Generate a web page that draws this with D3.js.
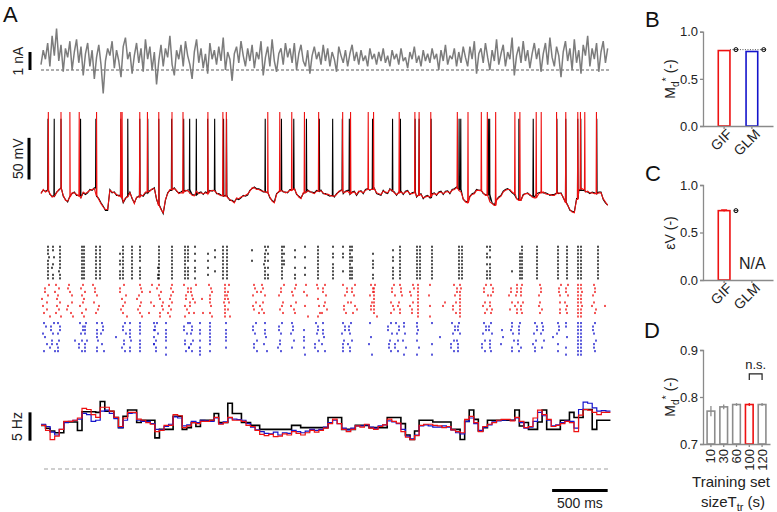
<!DOCTYPE html>
<html>
<head>
<meta charset="utf-8">
<script src="https://cdn.jsdelivr.net/npm/d3@7"></script>
<style>
  body { margin: 0; background: #fff; }
  svg { display: block; font-family: "Liberation Sans", Arial, sans-serif; }
</style>
</head>
<body>
<svg id="fig" width="777" height="512"></svg>
<script>
// ---- panel A data ----
const tStep = 20; // ms between trace samples

// injected current (nA), one sample every 20 ms
const currentNA = [
  0.3, 1.1, 0.6, 1.5, 0.2, 1.9, 0.8, 2.3, 0.5, 1.4, -0.1, 1.2, 0.7, 1.6, 0.0, 1.0,
  1.7, 0.4, 1.3, -0.3, 0.9, 1.5, 0.2, 1.1, -0.5, 0.7, 1.4, 0.3, -1.3, 0.5, 1.2, 0.8,
  1.6, 0.1, 1.1, 0.5, -0.4, 1.3, 1.8, 0.6, 1.0, -0.2, 0.8, 1.5, 0.4, 1.2, -0.1, 1.7,
  0.6, 1.3, 0.0, 1.0, -0.8, 0.5, 1.4, 0.2, 1.2, 0.7, 1.9, 0.3, -0.3, 1.1, 0.6, 1.4,
  0.2, 1.6, 0.8, 0.3, -0.5, 1.0, 1.7, 0.4, 1.2, 0.1, 0.9, -0.2, 1.5, 0.6, 1.1, 0.3,
  1.3, 0.5, 1.8, 0.0, 1.0, 0.6, -0.6, 0.9, 1.3, 0.4, 1.6, 0.8, 0.2, 1.2, 0.5, 1.4,
  0.1, 1.0, 0.6, 1.6, -0.3, 0.7, 1.3, 0.2, 1.7, 0.5, -0.1, 0.9, 1.2, 0.3, 1.5, 0.7,
  1.2, 0.4, 1.5, 0.0, 0.9, 1.4, 0.5, 0.2, 1.1, -0.2, 0.8, 1.3, 0.6, 1.0, 0.3, 1.4,
  0.5, 1.2, 0.2, 1.0, 0.6, -0.1, 1.3, 0.8, 0.4, 1.1, 0.2, 0.9, 1.4, 0.5, 1.0, 0.3,
  1.1, 0.5, 0.8, 0.2, 1.2, 0.6, 0.9, 0.3, 1.0, 0.5, 1.2, 0.4, 0.8, 0.2, 1.1, 0.6,
  0.9, 0.3, 1.2, 0.5, 0.7, 0.1, 1.0, 0.6, 1.3, 0.4, 0.8, 0.2, 1.1, 0.5, 0.9, 0.4,
  1.2, 0.6, 0.9, 0.0, 1.1, 0.5, 1.4, 0.3, 0.8, 0.6, 1.2, 0.2, 1.0, 0.4, 1.3, 0.7,
  0.2, 1.3, 0.6, 1.6, -0.2, 0.9, 1.2, 0.4, 1.5, 0.7, 0.0, 1.1, 0.5, 1.7, 0.3, 0.9,
  1.4, 0.2, 1.0, 0.6, 1.8, -0.3, 0.8, 1.3, 0.4, 1.6, 0.5, 1.1, 0.1, 0.9, 1.5, 0.6,
  1.2, -0.1, 0.9, 1.5, 0.3, 1.8, 0.7, 0.2, 1.3, 0.8, -0.4, 1.0, 1.6, 0.5, 1.2, 0.0,
  1.7, 0.4, 1.1, -0.2, 1.4, 0.8, 1.9, 0.2, 1.2, 0.6, 1.5, -0.1, 1.0, 1.6, 0.4, 1.2
];

// subthreshold membrane potential (mV), recorded and GIF model, every 20 ms
const vmData = [
  -61, -58, -59, -57.6, -63, -65, -66, -60, -58, -55.2, -65, -69,
  -72, -65, -62, -60, -64, -64, -66, -61, -63, -61, -57, -58,
  -55, -65, -68, -73, -77, -82, -82, -57, -61, -60, -64, -64,
  -66, -73, -68, -65, -60, -68, -73, -67, -65, -63.6, -65, -61,
  -61, -58, -57, -55, -69, -75, -80, -86, -70, -61, -58, -57,
  -55, -59, -61, -60, -58, -59, -57.6, -62, -63, -63.6, -60, -61,
  -60, -63, -60, -61, -58, -59, -57.6, -62, -62, -63.6, -65, -64,
  -66, -70, -70, -72, -68, -69, -67, -64, -65, -63.6, -58, -56,
  -54, -56, -56, -57.6, -60, -59, -60, -67, -70, -72, -62, -60,
  -57.6, -60, -60, -61, -57, -57, -55, -63, -65, -67, -62, -60,
  -57.6, -60, -60, -61, -58, -59, -57.6, -62, -62, -63.6, -65, -64,
  -66, -62, -60, -57.6, -62, -59, -58, -63, -60, -59, -64, -60,
  -58.5, -62, -57, -56, -58, -56, -55.2, -62, -63, -64, -58, -61,
  -62, -56, -59, -60, -64, -60, -59, -63, -59, -58, -63, -61,
  -60, -66, -63, -62, -68, -65, -64, -67, -62, -61, -64, -60,
  -59, -63, -59, -58.5, -62, -57, -56, -54, -57, -59, -69, -71,
  -72, -65, -62, -61, -57, -58, -57.6, -62, -63, -63.6, -71, -73,
  -75.6, -69, -66, -64, -59, -57, -56, -58, -61, -63, -68, -69,
  -69.6, -63, -62, -61, -64, -65, -66, -62, -61, -60, -61, -61,
  -62, -64, -63, -63, -61, -62, -61, -67, -72, -75.6, -82, -83,
  -84, -68, -58, -54, -58, -59, -60, -62, -60, -61, -62, -60,
  -60, -69, -73, -75.6
];
const vmModel = [
  -62, -57, -60, -58.5, -62, -66, -65, -61, -57, -56, -64, -70,
  -71, -66, -61, -61, -63, -65, -67, -60, -62, -60, -58, -57,
  -56, -64, -69, -74, -78, -81, -81, -58, -60, -61, -63, -65,
  -67, -72, -67, -66, -61, -67, -74, -66, -66, -64.5, -64, -60,
  -60, -59, -56, -56, -68, -76, -81, -85, -69, -62, -57, -58,
  -56, -58, -62, -61, -59, -58, -58.5, -61, -64, -64.5, -59, -62,
  -61, -62, -61, -62, -59, -58, -58.5, -61, -63, -64.5, -64, -65,
  -67, -69, -71, -73, -67, -68, -66, -65, -64, -62.5, -59, -55,
  -55, -57, -57, -58.5, -59, -60, -61, -66, -71, -73, -63, -59,
  -58.5, -59, -61, -60, -58, -56, -56, -62, -66, -68, -61, -61,
  -58.5, -59, -61, -62, -59, -58, -58.5, -61, -63, -62.5, -64, -65,
  -65, -63, -59, -58.5, -61, -60, -59, -62, -61, -60, -63, -59,
  -59.5, -61, -58, -57, -57, -57, -56, -61, -62, -63, -59, -60,
  -61, -57, -58, -61, -63, -61, -60, -62, -60, -59, -62, -62,
  -61, -65, -64, -63, -67, -66, -65, -66, -63, -62, -63, -61,
  -60, -62, -60, -59.5, -61, -58, -57, -55, -58, -60, -68, -72,
  -73, -66, -63, -62, -58, -58, -58.5, -61, -64, -64.5, -72, -74,
  -76, -70, -67, -65, -60, -58, -57, -57, -60, -62, -68, -70,
  -70, -64, -62, -62, -63, -66, -67, -63, -62, -61, -60, -62,
  -63, -63, -64, -64, -62, -61, -62, -66, -73, -76, -81, -84,
  -85, -69, -57, -55, -57, -60, -59, -61, -61, -62, -61, -61,
  -61, -68, -72, -76
];

// spike times (ms) and peak potentials (mV)
const spikesData = [
  63, 119, 180, 356, 494, 718, 781, 889, 961, 1060, 1176, 1284, 1338, 1398,
  1500, 1563, 1643, 1670, 2018, 2164, 2275, 2389, 2505, 2625, 2712, 2775,
  2984, 3164, 3235, 3367, 3403, 3511, 3763, 3778, 4026, 4038, 4301, 4430,
  4643, 4723, 4831, 4858, 5002
];
const spikesModel = [
  66, 180, 260, 344, 500, 718, 730, 889, 958, 1060, 1179, 1278, 1502, 1637,
  1668, 2041, 2149, 2257, 2371, 2499, 2715, 2786, 2945, 2993, 3224, 3365,
  3403, 3508, 3747, 3843, 3963, 4017, 4092, 4265, 4310, 4457, 4502, 4640,
  4723, 4831, 4855, 4894, 4999
];
const spikePeakData = 28;
const spikePeakModel = 36;

// rasters: [time (ms), one char per trial: '.' no spike, digit = jitter step of 9 ms around '4']
const rasterData = [
  [63, "4445444444"], [108, "44.5.43.44"], [171, "4444444344"], [369, "4444444444"],
  [387, "4444444444"], [495, "4444444444"], [531, "4444444444"], [711, "..4.44.444"],
  [738, "4444444444"], [819, "4444444444"], [891, "44444.4444"], [1053, "......4.44"],
  [1062, "4444444444"], [1179, "4444444444"], [1296, "4444444444"], [1323, "44444.4444"],
  [1386, "4.4.4.44.4"], [1503, "..4.4.4.4."], [1566, ".4.4...4.."], [1638, "4444444444"],
  [1674, "4444444444"], [1899, ".4..4....."], [2016, "4544434444"], [2043, "4.4.4.4.44"],
  [2169, "4444444444"], [2187, "4.4.44...."], [2286, ".4.4..4.44"], [2376, "4..4..4.4."],
  [2493, "4444444444"], [2628, "4.44.44444"], [2718, "4.44...4.."], [2781, "4444444444"],
  [2799, "44.44.4444"], [2988, "..4.444.44"], [3168, ".4.44.4444"], [3231, "4444444444"],
  [3384, "4444444444"], [3411, "4444444444"], [3519, "4444444444"], [3762, "4444444444"],
  [3789, "4444444444"], [4014, "4.44.4.444"], [4041, "44.4.44444"], [4239, ".......4.."],
  [4311, "..44444444"], [4329, "4444444444"], [4464, "4444444444"], [4653, "4444444444"],
  [4734, "4444444444"], [4833, "4444444444"], [4860, "4444444444"], [5013, "4444444444"]
];
const rasterGIF = [
  [45, "7336051528"], [144, "3625474638"], [261, "3246.62157"], [369, "5374652846"],
  [486, "2446.3875."], [729, "6228475359"], [891, "4563154246"], [990, "5.3..47.2."],
  [1071, "3153476744"], [1170, "5464352413"], [1305, "2664483573"], [1359, "8334572.6."],
  [1449, "....4...5."], [1521, "3564445.46"], [1656, "4444434444"], [1683, "5.4345.4.6"],
  [1926, "3462.5238."], [1989, "4537.5246"], [2160, "7442.6536."], [2277, "6523.6145"],
  [2385, "4.25..3..6"], [2493, "34..4.5.64"], [2547, "5336.5472"], [2736, "2664.7335"],
  [2808, "6335.2684"], [2970, "4663.544."], [2997, "5444444447"], [3168, "5336.2452"],
  [3231, "4556.3244"], [3339, "5623.5244"], [3393, "4444444444"], [3501, "4..3..4..4"],
  [3618, ".....64..."], [3726, "3664.5225"], [3771, "4544444444"], [3996, "5337.4264"],
  [4050, "4664.3354"], [4221, ".553.6.4."], [4284, "4443.5244"], [4320, "5444.6445"],
  [4491, "4553.4364"], [4671, "5334.4.44"], [4725, "6446.3545"], [4833, "4444444444"],
  [4860, "4454445444"], [4977, "4553.4265"], [5076, "......4..."]
];
const rasterGLM = [
  [36, "35.24.6.3."], [99, "6335.4427"], [153, "4664.5344"], [306, ".....4...."],
  [360, "3664.5225"], [396, "5444.6444"], [504, "4.4445.44."], [549, "4553..4.6"],
  [675, "....4....."], [747, "5336.4425"], [801, "4.4445.44"], [891, "4444.4444"],
  [1017, "4.4.4.4..."], [1035, "5336.4244"], [1125, "4.4444.4.4"], [1305, "6225.3374"],
  [1350, "3554.6425"], [1431, "4.44.4.444"], [1521, "4444444.4"], [1665, "4.4444.4."],
  [1926, "5224.6336"], [2016, "4.445.3.6."], [2151, "6335.4425"], [2259, "4553.6.4."],
  [2367, "..4.44.4.5"], [2484, "3554.6225"], [2538, "4.445.3.6."], [2718, "4663.5444"],
  [2781, "5334.6244"], [2961, "4...5.3..6"], [3141, "5226.4335"], [3204, "3664.5225"],
  [3267, "44.5.3.6.4"], [3384, "4454.4.6.4"], [3519, "4.....4..4"], [3591, "....4....."],
  [3708, "3664.5225"], [3753, "5446.3444"], [3987, "4663.5225"], [4041, "5336.4445"],
  [4149, "..4.5.3..."], [4239, "4435.6.44"], [4302, "5444.3364"], [4446, "4663.5244"],
  [4509, "4553.6.4."], [4608, "....4....."], [4653, "4553..4.4"], [4725, "44..5..4.4"],
  [4833, "4444444444"], [4860, "4444444444"], [4977, "5334.6445"]
];

// PSTH (Hz), bins of 41 ms
const psthBin = 41;
const psthData = [
  7.7, 7.2, 6.7, 6.4, 6.4, 8.3, 8.3, 8.3, 6.8, 10.1,
  10.1, 10.1, 10.0, 11.9, 10.2, 10.2, 9.1, 7.3, 9.3, 10.4,
  10.4, 8.2, 8.6, 8.6, 8.6, 5.5, 7.0, 7.0, 7.0, 9.3,
  9.3, 7.0, 7.3, 8.2, 7.5, 8.6, 8.6, 8.6, 9.8, 8.2,
  8.2, 11.6, 9.8, 9.8, 8.2, 8.2, 7.7, 7.7, 7.0, 7.0,
  7.0, 7.0, 7.0, 7.0, 7.0, 7.7, 7.7, 7.3, 7.3, 7.3,
  7.3, 7.3, 7.3, 9.1, 9.1, 9.1, 7.0, 7.0, 7.0, 7.7,
  7.7, 7.7, 7.3, 7.3, 7.3, 7.3, 9.1, 9.1, 9.1, 8.0,
  6.0, 5.2, 6.7, 8.6, 8.6, 8.6, 8.3, 8.3, 8.3, 8.3,
  7.0, 7.0, 5.2, 8.4, 10.4, 8.75, 6.7, 7.3, 8.6, 8.6,
  8.6, 8.6, 8.6, 8.6, 10.4, 7.6, 8.2, 7.0, 7.0, 8.3,
  10.4, 7.0, 7.0, 7.0, 8.6, 8.6, 10.0, 9.1, 9.1, 10.5,
  10.5, 7.0, 8.6, 8.6, 8.6
];
const psthGIF = [
  7.7, 6.8, 5.2, 5.8, 7.0, 8.4, 8.4, 8.6, 9.0, 10.7,
  10.5, 9.6, 9.1, 10.9, 10.9, 10.2, 9.1, 7.5, 9.0, 10.0,
  10.0, 8.8, 8.6, 8.2, 7.9, 6.6, 6.8, 7.7, 7.7, 9.6,
  9.4, 7.3, 7.6, 8.2, 8.0, 8.4, 8.4, 8.6, 9.1, 7.9,
  8.2, 9.1, 8.6, 8.6, 8.4, 7.7, 7.5, 6.8, 6.1, 5.9,
  6.1, 5.7, 5.8, 6.2, 6.0, 6.6, 6.3, 6.0, 6.4, 6.8,
  6.5, 6.8, 7.2, 8.0, 8.8, 8.0, 7.0, 6.6, 7.0, 7.6,
  7.4, 7.9, 7.2, 7.0, 7.5, 7.8, 8.8, 8.4, 8.1, 6.6,
  5.6, 5.2, 5.9, 7.7, 7.9, 7.9, 7.7, 7.6, 7.3, 7.5,
  6.9, 6.6, 6.4, 8.75, 9.3, 8.2, 6.6, 7.5, 7.9, 8.2,
  8.6, 8.75, 8.75, 8.5, 9.1, 8.4, 7.3, 7.5, 9.0, 10.4,
  9.6, 8.75, 7.5, 7.7, 8.0, 8.4, 8.2, 6.6, 9.5, 10.5,
  10.4, 10.0, 9.6, 10.0, 10.0
];
const psthGLM = [
  7.9, 7.5, 6.5, 6.0, 7.0, 8.2, 8.4, 8.6, 8.8, 9.8,
  9.6, 8.4, 8.6, 10.2, 10.4, 9.8, 8.9, 7.3, 8.6, 9.8,
  9.9, 8.6, 8.4, 8.4, 8.0, 7.0, 6.9, 7.5, 7.9, 9.2,
  9.0, 7.6, 7.8, 8.4, 8.2, 8.6, 8.5, 8.4, 9.0, 8.0,
  8.3, 9.0, 8.8, 8.7, 8.6, 8.0, 7.4, 6.9, 6.6, 6.3,
  6.2, 6.5, 6.0, 6.4, 6.3, 6.8, 6.6, 6.4, 6.7, 7.0,
  6.8, 7.0, 7.4, 8.2, 8.6, 8.0, 7.2, 6.9, 7.2, 7.6,
  7.6, 7.8, 7.4, 7.2, 7.6, 7.8, 8.5, 8.3, 8.0, 7.0,
  5.8, 5.3, 6.0, 7.6, 7.8, 7.6, 7.4, 7.4, 7.6, 7.4,
  6.9, 6.4, 6.2, 8.4, 9.0, 8.0, 6.8, 7.4, 7.8, 8.3,
  8.5, 8.6, 8.7, 8.6, 9.0, 8.2, 7.2, 7.4, 8.4, 10.0,
  9.4, 8.6, 7.6, 7.8, 8.2, 8.5, 8.4, 7.2, 10.5, 11.8,
  11.6, 10.8, 10.2, 10.3, 10.2
];

// ---- panels B, C, D data ----
const modelNames = ["GIF", "GLM"];
const mdStar = [0.80, 0.79];
const mdIntrinsic = 0.81;
const epsV = [0.73, null];
const epsVErr = [0.008, null];
const epsIntrinsic = 0.73;
const trainSizes = ["10", "30", "60", "100", "120"];
const mdTrain = [0.770, 0.779, 0.784, 0.784, 0.784];
const mdTrainErr = [0.011, 0.005, 0.003, 0.003, 0.003];

// ---- colours ----
const red = "#ee1111", blue = "#1414cc", grey = "#7c7c7c", axisGrey = "#8a8a8a";

const svg = d3.select("#fig");
svg.append("rect").attr("width", 777).attr("height", 512).attr("fill", "#fff");

// time axis shared by all of panel A
const x = d3.scaleLinear([0, 5112], [41, 609]);

// ---- current ----
const yI = d3.scaleLinear([-1.5, 2.5], [97, 25]);
svg.append("line")
    .attr("x1", x(0)).attr("x2", x(5112))
    .attr("y1", yI(0)).attr("y2", yI(0))
    .attr("stroke", "#333").attr("stroke-width", 0.8)
    .attr("stroke-dasharray", "3,2");
svg.append("path")
    .datum(currentNA)
    .attr("fill", "none").attr("stroke", grey).attr("stroke-width", 1.5)
    .attr("stroke-linejoin", "bevel")
    .attr("d", d3.line().x((d, i) => x(i * tStep)).y(d => yI(d)));

// ---- membrane potential ----
const yV = d3.scaleLinear([-90, 40], [217, 108.7]);
function withSpikes(vm, spikes, peak) {
    const pts = vm.map((v, i) => [i * tStep, v]);
    spikes.forEach(s => {
        const base = vm[Math.floor(s / tStep)];
        pts.push([s - 3, base], [s, peak], [s + 3, base]);
    });
    return pts.sort((a, b) => a[0] - b[0]);
}
const vLine = d3.line().x(d => x(d[0])).y(d => yV(d[1]));
svg.append("path")
    .datum(withSpikes(vmData, spikesData, spikePeakData))
    .attr("fill", "none").attr("stroke", "#000").attr("stroke-width", 1.1)
    .attr("d", vLine);
svg.append("path")
    .datum(withSpikes(vmModel, spikesModel, spikePeakModel))
    .attr("fill", "none").attr("stroke", red).attr("stroke-width", 1.1)
    .attr("d", vLine);

// ---- rasters ----
const groups = [
    {name: "data", events: rasterData, color: "#000"},
    {name: "GIF", events: rasterGIF, color: red},
    {name: "GLM", events: rasterGLM, color: blue}
];
const yGroup = d3.scalePoint(groups.map(g => g.name), [246.7, 323]);
const yTrial = d3.scalePoint(d3.range(10), [0, 31.6]);
groups.forEach(g => {
    const dots = [];
    g.events.forEach(([t, pat]) => {
        pat.split("").forEach((c, k) => {
            if (c !== ".") dots.push({t: t + (+c - 4) * 9, k});
        });
    });
    svg.append("g").selectAll("rect")
        .data(dots)
        .join("rect")
        .attr("x", d => x(d.t) - 0.7)
        .attr("y", d => yGroup(g.name) + yTrial(d.k) - 1)
        .attr("width", 1.4).attr("height", 2.1)
        .attr("fill", g.color);
});

// ---- PSTH ----
const yP = d3.scaleLinear([0, 15], [469, 384]);
svg.append("line")
    .attr("x1", 44).attr("x2", x(5112))
    .attr("y1", yP(0)).attr("y2", yP(0))
    .attr("stroke", "#a0a0a0").attr("stroke-width", 1.2)
    .attr("stroke-dasharray", "4,3");
const pLine = d3.line().curve(d3.curveStepAfter).x(d => x(d[0])).y(d => yP(d[1]));
function psthPoints(vals) {
    const pts = vals.map((v, i) => [i * psthBin, v]);
    pts.push([vals.length * psthBin, vals[vals.length - 1]]);
    return pts;
}
[[psthData, "#000", 1.6], [psthGLM, blue, 1.2], [psthGIF, red, 1.2]].forEach(([vals, c, w]) => {
    svg.append("path")
        .datum(psthPoints(vals))
        .attr("fill", "none").attr("stroke", c).attr("stroke-width", w)
        .attr("d", pLine);
});

// ---- scale bars for panel A ----
function vBar(xPos, y0, y1, label, labelX) {
    svg.append("line").attr("x1", xPos).attr("x2", xPos).attr("y1", y0).attr("y2", y1)
        .attr("stroke", "#000").attr("stroke-width", 3);
    svg.append("text")
        .attr("transform", `translate(${labelX},${(y0 + y1) / 2}) rotate(-90)`)
        .attr("text-anchor", "middle").attr("font-size", 14).attr("fill", "#222")
        .text(label);
}
vBar(30, yI(0), yI(1), "1 nA", 23);
vBar(29, yV(-45), yV(5), "50 mV", 23);
vBar(30, yP(5), yP(10), "5 Hz", 22);

svg.append("line").attr("x1", x(4600)).attr("x2", x(5100))
    .attr("y1", 490.5).attr("y2", 490.5)
    .attr("stroke", "#000").attr("stroke-width", 3);
svg.append("text").attr("x", (x(4600) + x(5100)) / 2).attr("y", 508)
    .attr("text-anchor", "middle").attr("font-size", 14).attr("fill", "#222")
    .text("500 ms");

// ---- panel letters ----
[["A", 3, 22], ["B", 645, 27], ["C", 645, 181], ["D", 644, 338]].forEach(([t, px, py]) => {
    svg.append("text").attr("x", px).attr("y", py)
        .attr("font-size", 22).attr("fill", "#111").text(t);
});

// ---- helpers for bar panels ----
function styleAxis(g) {
    g.selectAll(".domain").attr("stroke", axisGrey).attr("stroke-width", 1.3);
    g.selectAll(".tick line").attr("stroke", axisGrey).attr("stroke-width", 1.3);
    g.selectAll("text").attr("font-size", 13).attr("fill", "#222")
        .attr("font-family", "Liberation Sans, Arial, sans-serif");
}
function yTitle(yc, build) {
    const t = svg.append("text")
        .attr("transform", `translate(675,${yc}) rotate(-90)`)
        .attr("text-anchor", "middle").attr("font-size", 14).attr("fill", "#222");
    build(t);
}
function mdTitle(t) {
    t.append("tspan").text("M");
    t.append("tspan").attr("dy", 4).attr("font-size", 10).text("d");
    t.append("tspan").attr("dy", -9).attr("font-size", 11).text("*");
    t.append("tspan").attr("dy", 5).text(" (-)");
}
function modelLabels(xs, y0) {
    modelNames.forEach(n => {
        svg.append("text")
            .attr("transform", `translate(${xs(n) + xs.bandwidth() / 2 + 9},${y0 + 9}) rotate(-45)`)
            .attr("text-anchor", "end").attr("font-size", 14).attr("fill", "#222")
            .text(n);
    });
}
function marker(cx, cy) {
    svg.append("circle").attr("cx", cx).attr("cy", cy).attr("r", 2)
        .attr("fill", "#fff").attr("stroke", "#000").attr("stroke-width", 1);
    svg.append("line").attr("x1", cx - 2).attr("x2", cx + 2).attr("y1", cy).attr("y2", cy)
        .attr("stroke", "#000").attr("stroke-width", 0.8);
}

// ---- panel B ----
const xB = d3.scaleBand(modelNames, [703, 773]).paddingInner(0.58).paddingOuter(0.55);
const yB = d3.scaleLinear([0, 1], [126, 31.7]);
svg.append("line")
    .attr("x1", xB("GIF") + xB.bandwidth()).attr("x2", xB("GLM") + xB.bandwidth() + 7)
    .attr("y1", yB(mdIntrinsic)).attr("y2", yB(mdIntrinsic))
    .attr("stroke", "#555").attr("stroke-width", 1).attr("stroke-dasharray", "1,1.5");
svg.append("g").selectAll("rect").data(modelNames).join("rect")
    .attr("x", d => xB(d)).attr("width", xB.bandwidth())
    .attr("y", (d, i) => yB(mdStar[i])).attr("height", (d, i) => yB(0) - yB(mdStar[i]))
    .attr("fill", "none").attr("stroke", (d, i) => i ? blue : red).attr("stroke-width", 1.6);
modelNames.forEach(n => marker(xB(n) + xB.bandwidth() + 6, yB(mdIntrinsic)));
svg.append("g").attr("transform", "translate(703,0)")
    .call(d3.axisLeft(yB).tickValues([0, 0.5, 1]).tickFormat(d3.format(".1f")).tickSize(3).tickPadding(2))
    .call(styleAxis);
svg.append("g").attr("transform", `translate(0,${yB(0)})`)
    .call(d3.axisBottom(xB).tickSize(3).tickFormat("").tickSizeOuter(0))
    .call(styleAxis);
modelLabels(xB, yB(0));
yTitle(79, mdTitle);

// ---- panel C ----
const xC = xB.copy();
const yC = d3.scaleLinear([0, 1], [280, 185]);
svg.append("g").selectAll("rect").data(modelNames.filter((d, i) => epsV[i] !== null)).join("rect")
    .attr("x", d => xC(d)).attr("width", xC.bandwidth())
    .attr("y", (d, i) => yC(epsV[i])).attr("height", (d, i) => yC(0) - yC(epsV[i]))
    .attr("fill", "none").attr("stroke", red).attr("stroke-width", 1.6);
const cGif = xC("GIF") + xC.bandwidth() / 2;
svg.append("line").attr("x1", cGif).attr("x2", cGif)
    .attr("y1", yC(epsV[0] - epsVErr[0])).attr("y2", yC(epsV[0] + epsVErr[0]))
    .attr("stroke", red).attr("stroke-width", 1.2);
svg.append("line").attr("x1", cGif - 3).attr("x2", cGif + 3)
    .attr("y1", yC(epsV[0] + epsVErr[0])).attr("y2", yC(epsV[0] + epsVErr[0]))
    .attr("stroke", red).attr("stroke-width", 1.2);
marker(xC("GIF") + xC.bandwidth() + 6, yC(epsIntrinsic));
svg.append("text").attr("x", xC("GLM") - 7).attr("y", yC(0.12))
    .attr("font-size", 16).attr("fill", "#222").text("N/A");
svg.append("g").attr("transform", "translate(703,0)")
    .call(d3.axisLeft(yC).tickValues([0, 0.5, 1]).tickFormat(d3.format(".1f")).tickSize(3).tickPadding(2))
    .call(styleAxis);
svg.append("g").attr("transform", `translate(0,${yC(0)})`)
    .call(d3.axisBottom(xC).tickSize(3).tickFormat("").tickSizeOuter(0))
    .call(styleAxis);
modelLabels(xC, yC(0));
yTitle(233, t => {
    t.append("tspan").text("\u03b5V (-)");
});

// ---- panel D ----
const xD = d3.scaleBand(trainSizes, [703, 770]).paddingInner(0.4).paddingOuter(0.32);
const yD = d3.scaleLinear([0.7, 0.9], [444, 350]);
const dColor = d => d === "100" ? red : "#8c8c8c";
svg.append("g").selectAll("rect").data(trainSizes).join("rect")
    .attr("x", d => xD(d)).attr("width", xD.bandwidth())
    .attr("y", (d, i) => yD(mdTrain[i])).attr("height", (d, i) => yD(0.7) - yD(mdTrain[i]))
    .attr("fill", "#fff").attr("stroke", dColor).attr("stroke-width", 1.6);
svg.append("g").selectAll("line").data(trainSizes).join("line")
    .attr("x1", d => xD(d) + xD.bandwidth() / 2).attr("x2", d => xD(d) + xD.bandwidth() / 2)
    .attr("y1", (d, i) => yD(mdTrain[i] - mdTrainErr[i]))
    .attr("y2", (d, i) => yD(mdTrain[i] + mdTrainErr[i]))
    .attr("stroke", dColor).attr("stroke-width", 1.3);
svg.append("g").attr("transform", "translate(703,0)")
    .call(d3.axisLeft(yD).tickValues([0.7, 0.8, 0.9]).tickFormat(d3.format(".1f")).tickSize(3).tickPadding(2))
    .call(styleAxis);
svg.append("g").attr("transform", `translate(0,${yD(0.7)})`)
    .call(d3.axisBottom(xD).tickSize(3).tickFormat("").tickSizeOuter(0))
    .call(styleAxis);
trainSizes.forEach(s => {
    svg.append("text")
        .attr("transform", `translate(${xD(s) + xD.bandwidth() / 2},${yD(0.7) + 5}) rotate(-90)`)
        .attr("text-anchor", "end").attr("dy", "0.35em")
        .attr("font-size", 13).attr("fill", "#222").text(s);
});
yTitle(397, mdTitle);

// n.s. bracket between 100 and 120
const c4 = xD("100") + xD.bandwidth() / 2, c5 = xD("120") + xD.bandwidth() / 2;
const yBr = yD(0.849);
svg.append("path")
    .attr("d", `M${c4},${yBr + 6}V${yBr}H${c5}V${yBr + 6}`)
    .attr("fill", "none").attr("stroke", "#222").attr("stroke-width", 1.2);
svg.append("text").attr("x", (c4 + c5) / 2).attr("y", yBr - 5)
    .attr("text-anchor", "middle").attr("font-size", 13).attr("fill", "#222").text("n.s.");

// x-axis title
const tt = svg.append("text").attr("text-anchor", "middle").attr("font-size", 15).attr("fill", "#222");
tt.append("tspan").attr("x", 731).attr("y", 487).text("Training set");
const t2 = svg.append("text").attr("text-anchor", "middle").attr("font-size", 15).attr("fill", "#222")
    .attr("x", 733).attr("y", 507);
t2.append("tspan").text("sizeT");
t2.append("tspan").attr("dy", 4).attr("font-size", 11).text("tr");
t2.append("tspan").attr("dy", -4).attr("font-size", 15).text(" (s)");
</script>
</body>
</html>
